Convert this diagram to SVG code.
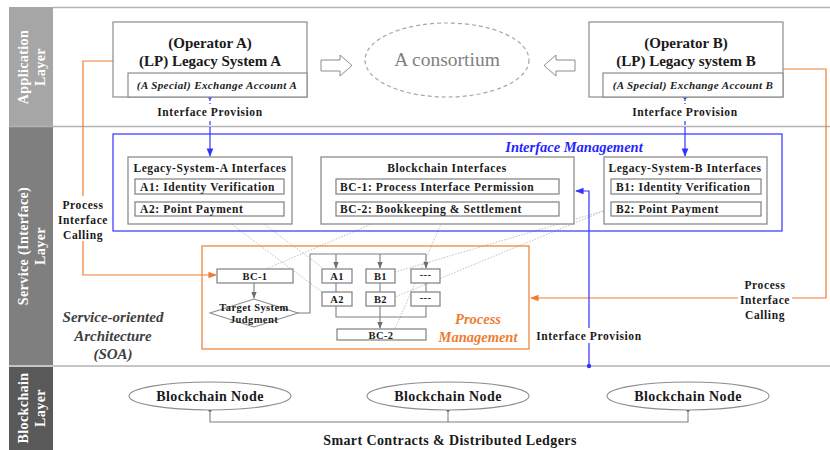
<svg xmlns="http://www.w3.org/2000/svg" width="830" height="450" viewBox="0 0 830 450">
<defs>
<style>
text{font-family:"Liberation Serif","Times New Roman",serif;font-weight:bold;fill:#1a1a1a;text-anchor:middle}
.lay{fill:#fff;font-size:14px;letter-spacing:0.4px}
.box{fill:#fff;stroke:#8c8c8c;stroke-width:1.3}
.sub{fill:#fff;stroke:#7f7f7f;stroke-width:1.2}
.t15{font-size:15px}
.t11{font-size:11.5px;letter-spacing:0.6px}
.st{text-anchor:start}
.t10{font-size:10.5px;letter-spacing:0.4px}
.it{font-style:italic}
.sep{stroke:#b3b3b3;stroke-width:1.5;fill:none}
.org{stroke:#ed7d31;stroke-width:1.2;fill:none}
.blu{stroke:#3333ff;stroke-width:1.2;fill:none}
.gry{stroke:#7f7f7f;stroke-width:1.1;fill:none}
.dot{stroke:#b0b0b0;stroke-width:0.8;stroke-dasharray:1.5 1.5;fill:none}
.bg{fill:#fff}
.node{font-size:14px;letter-spacing:0.4px}
.soa{font-size:15px;font-style:italic;fill:#404040}
</style>
<marker id="ao" viewBox="0 0 10 10" refX="9" refY="5" markerWidth="7" markerHeight="7" orient="auto"><path d="M0,1L10,5L0,9z" fill="#ed7d31"/></marker>
<marker id="ab" viewBox="0 0 10 10" refX="9" refY="5" markerWidth="7" markerHeight="7" orient="auto"><path d="M0,1L10,5L0,9z" fill="#3333ff"/></marker>
<marker id="ag" viewBox="0 0 10 10" refX="9" refY="5" markerWidth="6" markerHeight="6" orient="auto"><path d="M0,1L10,5L0,9z" fill="#6d6d6d"/></marker>
</defs>
<rect width="830" height="450" fill="#fff"/>

<g id="layers">
<rect x="9" y="7" width="44" height="119" fill="#a6a6a6"/>
<rect x="9" y="127" width="44" height="238" fill="#7f7f7f"/>
<rect x="9" y="367" width="44" height="83" fill="#595959"/>
<line class="sep" x1="53" y1="7.5" x2="830" y2="7.5"/>
<line class="sep" x1="9" y1="126.5" x2="830" y2="126.5"/>
<line class="sep" x1="9" y1="366" x2="830" y2="366"/>
<text class="lay" transform="translate(28,67) rotate(-90)">Application</text>
<text class="lay" transform="translate(45,67) rotate(-90)">Layer</text>
<text class="lay" transform="translate(28,246) rotate(-90)">Service (Interface)</text>
<text class="lay" transform="translate(45,246) rotate(-90)">Layer</text>
<text class="lay" transform="translate(28,408) rotate(-90)">Blockchain</text>
<text class="lay" transform="translate(45,408) rotate(-90)">Layer</text>
</g>

<g id="connectors">
<line class="dot" x1="222" y1="193" x2="323" y2="268"/>
<line class="dot" x1="222" y1="217" x2="322" y2="292"/>
<line class="dot" x1="442" y1="194" x2="266" y2="269"/>
<line class="dot" x1="444" y1="217" x2="395" y2="329"/>
<line class="dot" x1="661" y1="194" x2="395" y2="272"/>
<line class="dot" x1="611" y1="208" x2="395" y2="297"/>
<polyline class="org" points="113,61 83,61 83,275 216,275" marker-end="url(#ao)"/>
<polyline class="org" points="783,69 826,69 826,298 531,298" marker-end="url(#ao)"/>
<line class="blu" x1="210" y1="97" x2="210" y2="127" stroke-dasharray="4 2"/>
<line class="blu" x1="210" y1="127" x2="210" y2="156" marker-end="url(#ab)"/>
<circle cx="210" cy="97" r="2" fill="#3333ff"/>
<line class="blu" x1="685" y1="97" x2="685" y2="127" stroke-dasharray="4 2"/>
<line class="blu" x1="685" y1="127" x2="685" y2="156" marker-end="url(#ab)"/>
<circle cx="685" cy="97" r="2" fill="#3333ff"/>
<polyline class="blu" points="589,366 589,191 576,191" marker-end="url(#ab)"/>
<circle cx="589" cy="366" r="2.2" fill="#3333ff"/>
<line class="gry" x1="254" y1="283" x2="254" y2="298" marker-end="url(#ag)"/>
<polyline class="gry" points="298,313 310,313 310,254 426,254"/>
<line class="gry" x1="336" y1="254" x2="336" y2="268" marker-end="url(#ag)"/>
<line class="gry" x1="380" y1="254" x2="380" y2="268" marker-end="url(#ag)"/>
<line class="gry" x1="426" y1="254" x2="426" y2="268" marker-end="url(#ag)"/>
<line class="gry" x1="336" y1="283" x2="336" y2="292"/>
<line class="gry" x1="380" y1="283" x2="380" y2="292"/>
<line class="gry" x1="426" y1="283" x2="426" y2="292"/>
<polyline class="gry" points="336,306 336,317 426,317 426,306"/>
<line class="gry" x1="380" y1="306" x2="380" y2="328" marker-end="url(#ag)"/>
<polyline class="gry" points="210,410 210,422 688,422 688,410"/>
<line class="gry" x1="448" y1="410" x2="448" y2="422"/>
<circle cx="210" cy="410" r="1.8" fill="#555"/>
<circle cx="448" cy="410" r="1.8" fill="#555"/>
<circle cx="688" cy="410" r="1.8" fill="#555"/>
</g>

<g id="labels">
<rect class="bg" x="155" y="104" width="110" height="15"/>
<text class="t11" x="210" y="116">Interface Provision</text>
<rect class="bg" x="630" y="104" width="110" height="15"/>
<text class="t11" x="685" y="116">Interface Provision</text>
<rect class="bg" x="56" y="196" width="54" height="45"/>
<text class="t11" x="83" y="209">Process</text>
<text class="t11" x="83" y="224">Interface</text>
<text class="t11" x="83" y="239">Calling</text>
<rect class="bg" x="738" y="276" width="54" height="45"/>
<text class="t11" x="765" y="289">Process</text>
<text class="t11" x="765" y="304">Interface</text>
<text class="t11" x="765" y="319">Calling</text>
<rect class="bg" x="535" y="328" width="108" height="15"/>
<text class="t11" x="589" y="340">Interface Provision</text>
<text class="soa" x="113" y="322">Service-oriented</text>
<text class="soa" x="113" y="341">Architecture</text>
<text class="soa" x="113" y="359">(SOA)</text>
<text class="node" x="450" y="445">Smart Contracts &amp; Distributed Ledgers</text>
</g>

<g id="operator-a">
<rect x="113" y="22" width="194" height="75" fill="#fff" stroke="#8c8c8c" stroke-width="1.2"/>
<rect x="128" y="73" width="179" height="24" fill="#fff" stroke="#8c8c8c" stroke-width="1.2"/>
<text class="t15" x="210" y="48">(Operator A)</text>
<text class="t15" x="210" y="66">(LP) Legacy System A</text>
<text class="it" x="217" y="89" style="font-size:11px;letter-spacing:0.4px">(A Special) Exchange Account A</text>
</g>

<g id="operator-b">
<rect x="589" y="22" width="194" height="75" fill="#fff" stroke="#8c8c8c" stroke-width="1.2"/>
<rect x="603" y="73" width="180" height="24" fill="#fff" stroke="#8c8c8c" stroke-width="1.2"/>
<text class="t15" x="686" y="48">(Operator B)</text>
<text class="t15" x="686" y="66">(LP) Legacy system B</text>
<text class="it" x="693" y="89" style="font-size:11px;letter-spacing:0.4px">(A Special) Exchange Account B</text>
</g>

<g id="consortium">
<polygon points="321,60 340,60 340,55 352,65.5 340,76 340,71 321,71" fill="#fff" stroke="#8c8c8c" stroke-width="1"/>
<polygon points="575,60 556,60 556,55 544,65.5 556,76 556,71 575,71" fill="#fff" stroke="#8c8c8c" stroke-width="1"/>
<ellipse cx="447" cy="60" rx="82" ry="37" fill="none" stroke="#a6a6a6" stroke-width="1.2" stroke-dasharray="4 3"/>
<text x="447" y="66" style="font-size:19.5px;font-weight:normal;fill:#7f7f7f">A consortium</text>
</g>

<g id="interface-management">
<rect x="113" y="134" width="669" height="97" fill="none" stroke="#3333ff" stroke-width="1.2"/>
<text class="it" x="574" y="152" style="font-size:14.5px;fill:#2424ff">Interface Management</text>
</g>

<g id="legacy-a-interfaces">
<rect class="box" x="128" y="157" width="164" height="67"/>
<text class="t11" x="210" y="172">Legacy-System-A Interfaces</text>
<rect class="sub" x="135" y="179" width="149" height="15"/>
<text class="t11 st" x="140" y="191">A1: Identity Verification</text>
<rect class="sub" x="135" y="202" width="149" height="14"/>
<text class="t11 st" x="140" y="213">A2: Point Payment</text>
</g>

<g id="blockchain-interfaces">
<rect class="box" x="321" y="157" width="253" height="67"/>
<text class="t11" x="447" y="172">Blockchain Interfaces</text>
<rect class="sub" x="336" y="179" width="223" height="15"/>
<text class="t11 st" x="340" y="191">BC-1: Process Interface Permission</text>
<rect class="sub" x="336" y="202" width="223" height="14"/>
<text class="t11 st" x="340" y="213">BC-2: Bookkeeping &amp; Settlement</text>
</g>

<g id="legacy-b-interfaces">
<rect class="box" x="604" y="157" width="163" height="67"/>
<text class="t11" x="685" y="172">Legacy-System-B Interfaces</text>
<rect class="sub" x="611" y="179" width="150" height="15"/>
<text class="t11 st" x="616" y="191">B1: Identity Verification</text>
<rect class="sub" x="611" y="202" width="150" height="14"/>
<text class="t11 st" x="616" y="213">B2: Point Payment</text>
</g>

<g id="process-management">
<rect x="202" y="246" width="327" height="103" fill="none" stroke="#ed7d31" stroke-width="1.2"/>
<text class="it" x="478" y="324" style="font-size:14.5px;fill:#ed7d31">Process</text>
<text class="it" x="478" y="342" style="font-size:14.5px;fill:#ed7d31">Management</text>
</g>

<g id="pm-bc1">
<rect class="sub" x="217" y="269" width="76" height="14"/>
<text class="t10" x="255" y="280">BC-1</text>
</g>
<g id="pm-judgment">
<polygon points="254,299 298,313 254,327 210,313" fill="#fff" stroke="#8c8c8c" stroke-width="1.1"/>
<text class="t10" x="254" y="311">Target System</text>
<text class="t10" x="254" y="323">Judgment</text>
</g>
<g id="pm-a1"><rect class="sub" x="322" y="269" width="30" height="14"/><text class="t10" x="337" y="280">A1</text></g>
<g id="pm-b1"><rect class="sub" x="366" y="269" width="29" height="14"/><text class="t10" x="380.5" y="280">B1</text></g>
<g id="pm-x1"><rect class="sub" x="411" y="269" width="29" height="14"/><text class="t10" x="425.5" y="278">---</text></g>
<g id="pm-a2"><rect class="sub" x="322" y="292" width="30" height="14"/><text class="t10" x="337" y="303">A2</text></g>
<g id="pm-b2"><rect class="sub" x="366" y="292" width="29" height="14"/><text class="t10" x="380.5" y="303">B2</text></g>
<g id="pm-x2"><rect class="sub" x="411" y="292" width="29" height="14"/><text class="t10" x="425.5" y="301">---</text></g>
<g id="pm-bc2"><rect class="sub" x="337" y="329" width="89" height="11"/><text class="t10" x="381" y="338.5">BC-2</text></g>

<g id="node-1"><ellipse cx="210" cy="396" rx="81" ry="14" fill="#fff" stroke="#8c8c8c" stroke-width="1.1"/><text class="node" x="210" y="401">Blockchain Node</text></g>
<g id="node-2"><ellipse cx="448" cy="396" rx="81" ry="14" fill="#fff" stroke="#8c8c8c" stroke-width="1.1"/><text class="node" x="448" y="401">Blockchain Node</text></g>
<g id="node-3"><ellipse cx="688" cy="396" rx="81" ry="14" fill="#fff" stroke="#8c8c8c" stroke-width="1.1"/><text class="node" x="688" y="401">Blockchain Node</text></g>
</svg>
